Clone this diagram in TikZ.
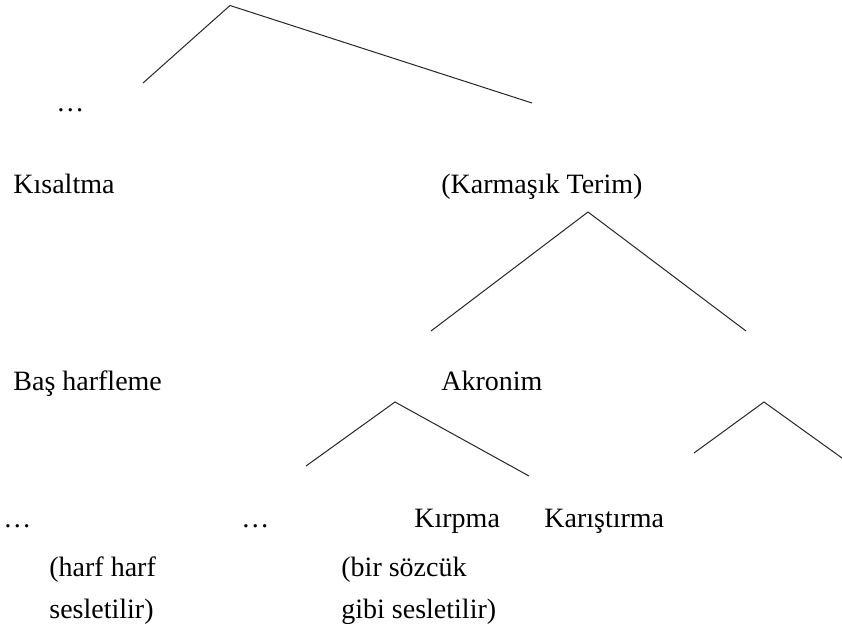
\documentclass[tikz,border=0pt]{standalone}
\usepackage{fontspec}
\setmainfont{Liberation Serif}
\usetikzlibrary{positioning}

\begin{document}
\begin{tikzpicture}[x=0.5pt, y=-0.5pt,
    lbl/.style={anchor=base west, inner sep=0pt, align=left,
      font=\fontsize{14}{21}\selectfont},
    branch/.style={line width=0.5pt, draw=black!85}]
  \useasboundingbox (0,0) rectangle (842,627);
  % tree lines
  \coordinate (topapex) at (230,5.5);
  \coordinate (topL) at (143,83);
  \coordinate (topR) at (532,103);
  \coordinate (kapex) at (588,212);
  \coordinate (kL) at (431,331);
  \coordinate (kR) at (746,331);
  \coordinate (aapex) at (395,402);
  \coordinate (aL) at (306,466);
  \coordinate (aR) at (529,476);
  \coordinate (rapex) at (764,402);
  \coordinate (rL) at (694,453);
  \coordinate (rR) at (842,458);
  \draw[branch] (topL) -- (topapex) -- (topR);
  \draw[branch] (kL) -- (kapex) -- (kR);
  \draw[branch] (aL) -- (aapex) -- (aR);
  \draw[branch] (rL) -- (rapex) -- (rR);
  % labels
  \node[lbl] (dots1) at (56,111) {…};
  \node[lbl] (kisaltma) at (13,193) {Kısaltma};
  \node[lbl] (karmasik) at (441,193) {(Karmaşık Terim)};
  \node[lbl] (bas) at (13,390) {Baş harfleme};
  \node[lbl] (akronim) at (441,390) {Akronim};
  \node[lbl] (dots2) at (3,527) {…};
  \node[lbl] (dots3) at (241,527) {…};
  \node[lbl] (kirpma) at (414,527) {Kırpma};
  \node[lbl] (karistirma) at (544,527) {Karıştırma};
  \node[lbl] (harf) at (49,618) {(harf harf\\sesletilir)};
  \node[lbl] (sozcuk) at (341,618) {(bir sözcük\\gibi sesletilir)};
\end{tikzpicture}
\end{document}
